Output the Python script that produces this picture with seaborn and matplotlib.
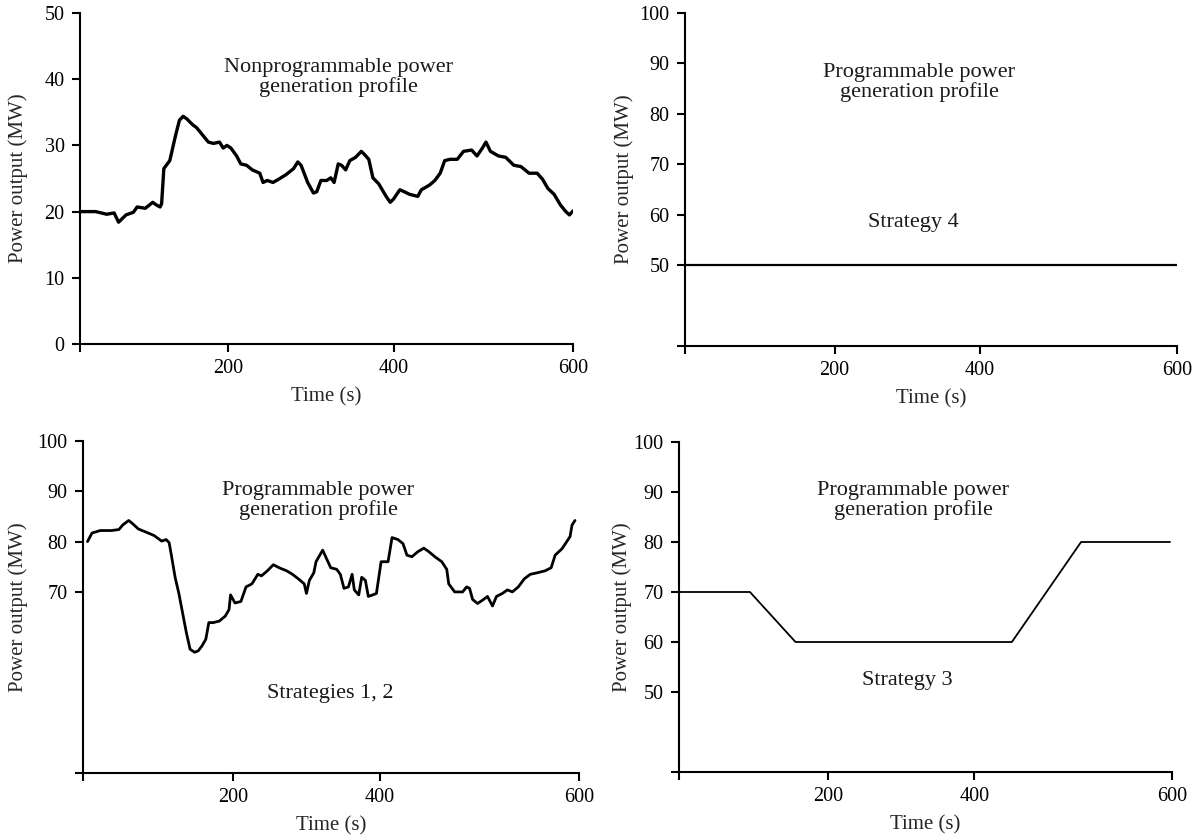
import numpy as np
import matplotlib
matplotlib.use("Agg")
import matplotlib.pyplot as plt
import seaborn as sns

# Nonprogrammable power generation profile (time in s, power in MW)
nonprog_time = [0, 21, 36, 46, 52, 62, 72, 77, 88, 98, 103, 108, 110, 113, 121, 129,
                134, 139, 144, 152, 157, 165, 173, 180, 188, 193, 198, 203, 210, 215,
                222, 229, 238, 242, 247, 254, 261, 270, 279, 284, 288, 296, 303, 307,
                312, 319, 324, 328, 333, 337, 342, 347, 354, 361, 365, 370, 375, 382,
                391, 396, 400, 407, 412, 418, 427, 431, 440, 446, 452, 457, 463, 471,
                478, 487, 493, 499, 503, 508, 517, 525, 534, 542, 551, 560, 566, 572,
                579, 586, 592, 596, 600]
nonprog_power = [20.0, 20.0, 19.6, 19.8, 18.4, 19.5, 19.9, 20.7, 20.5, 21.4, 21.0, 20.7,
                 21.2, 26.5, 27.7, 31.6, 33.8, 34.4, 34.0, 33.1, 32.7, 31.6, 30.5, 30.3,
                 30.5, 29.6, 30.0, 29.6, 28.4, 27.2, 27.0, 26.3, 25.8, 24.4, 24.7, 24.4,
                 24.9, 25.6, 26.5, 27.5, 27.0, 24.4, 22.8, 23.0, 24.7, 24.7, 25.1, 24.4,
                 27.2, 27.0, 26.3, 27.7, 28.2, 29.1, 28.6, 27.9, 25.1, 24.2, 22.3, 21.4,
                 21.9, 23.3, 23.0, 22.6, 22.3, 23.3, 24.0, 24.7, 25.8, 27.7, 27.9, 27.9,
                 29.1, 29.3, 28.4, 29.6, 30.5, 29.1, 28.4, 28.2, 27.0, 26.8, 25.8, 25.8,
                 24.9, 23.5, 22.6, 21.0, 20.0, 19.5, 20.1]

# Programmable profile, strategies 1 and 2
s12_time = [6, 12, 23, 38, 48, 53, 61, 66, 74, 84, 95, 105, 111, 115, 118, 123, 128,
            133, 138, 143, 149, 154, 159, 164, 168, 174, 182, 190, 195, 197, 203, 211,
            218, 226, 234, 239, 247, 255, 263, 273, 281, 289, 297, 300, 304, 310, 313,
            322, 327, 333, 341, 346, 351, 357, 362, 365, 371, 375, 380, 384, 390, 395,
            401, 408, 412, 418, 423, 427, 432, 438, 444, 449, 455, 462, 467, 469, 475,
            483, 487, 490, 493, 498, 504, 508, 513, 517, 523, 528, 533, 539, 545, 551,
            558, 566, 572, 576, 583, 587, 591, 593, 596]
s12_power = [80.0, 81.7, 82.2, 82.2, 82.4, 83.3, 84.2, 83.6, 82.5, 81.9, 81.2, 80.1,
             80.4, 79.8, 77.3, 72.9, 69.7, 65.8, 61.9, 58.6, 58.0, 58.3, 59.3, 60.6,
             63.9, 63.9, 64.2, 65.2, 66.5, 69.4, 67.8, 68.1, 71.0, 71.6, 73.5, 73.2,
             74.2, 75.4, 74.8, 74.2, 73.5, 72.6, 71.6, 69.7, 72.3, 73.8, 76.0, 78.3,
             76.7, 74.8, 74.5, 73.5, 70.7, 71.0, 73.5, 70.4, 69.4, 72.9, 72.3, 69.1,
             69.4, 69.7, 76.0, 76.0, 80.8, 80.4, 79.6, 77.3, 77.0, 78.0, 78.7, 78.0,
             77.0, 76.0, 74.5, 71.6, 70.0, 70.0, 71.0, 70.7, 68.5, 67.7, 68.5, 69.1,
             67.2, 69.1, 69.7, 70.4, 70.0, 71.0, 72.6, 73.5, 73.8, 74.2, 74.8, 77.3,
             78.6, 79.8, 81.0, 83.3, 84.2]

# Programmable profile, strategy 3 schedule
s3_time = [0, 95, 156, 438, 508, 598]
s3_power = [70, 70, 60, 60, 80, 80]

# Programmable profile, strategy 4 schedule
s4_time = [0, 600]
s4_power = [50, 50]

x_ticks = [0, 200, 400, 600]
x_labels = ["", "200", "400", "600"]

sns.set_theme(style="ticks")
plt.rcParams["font.family"] = ["Liberation Serif", "DejaVu Serif"]
plt.rcParams["axes.linewidth"] = 1.5
plt.rcParams["xtick.major.width"] = 1.5
plt.rcParams["ytick.major.width"] = 1.5
plt.rcParams["xtick.major.size"] = 6
plt.rcParams["ytick.major.size"] = 6
plt.rcParams["xtick.major.pad"] = 5
plt.rcParams["ytick.major.pad"] = 5
plt.rcParams["xtick.labelsize"] = 14.5
plt.rcParams["ytick.labelsize"] = 14.5
plt.rcParams["xtick.color"] = "black"
plt.rcParams["ytick.color"] = "black"
plt.rcParams["axes.edgecolor"] = "black"
plt.rcParams["text.color"] = "#1a1a1a"

W, H = 1203, 840
fig = plt.figure(figsize=(W / 100, H / 100), dpi=100)


def time_axis(f200, f400):
    """Piecewise-linear time scale with the 200 s / 400 s ticks at given fractions."""
    src = np.array([-600.0, 0.0, 200.0, 400.0, 600.0, 1200.0])
    dst = np.array([-1.0, 0.0, f200, f400, 1.0, 2.0])
    return (lambda v: np.interp(v, src, dst), lambda v: np.interp(v, dst, src))


def panel(left, top, right, bottom, fracs, ylim, ylabeled, ylab_off):
    ax = fig.add_axes([left / W, 1 - bottom / H, (right - left) / W, (bottom - top) / H])
    ax.set_xscale("function", functions=time_axis(*fracs))
    ax.set_xlim(0, 600)
    ax.set_xticks(x_ticks)
    ax.set_xticklabels(x_labels)
    ax.set_ylim(*ylim)
    yt = sorted(set([ylim[0]] + ylabeled))
    ax.set_yticks(yt)
    ax.set_yticklabels([str(v) if v in ylabeled else "" for v in yt])
    ax.minorticks_off()
    sns.despine(ax=ax)
    ax.set_xlabel("Time (s)", fontsize=15)
    ax.set_ylabel("Power output (MW)", fontsize=15)
    ax.xaxis.set_label_coords(0.5, -43 / (bottom - top))
    ax.yaxis.set_label_coords(-ylab_off / (right - left), 0.5)
    return ax


def caption(ax, x, y, text):
    ax.text(x, y, text, transform=ax.transAxes, ha="center", va="center",
            fontsize=16, linespacing=1.0)


# Top left: nonprogrammable generation
ax1 = panel(80, 13, 573, 344, (0.301, 0.636), (0, 50), [0, 10, 20, 30, 40, 50], 52)
sns.lineplot(x=nonprog_time, y=nonprog_power, ax=ax1, color="black", linewidth=2.4)
caption(ax1, 0.525, 0.804, "Nonprogrammable power\ngeneration profile")

# Top right: strategy 4
ax2 = panel(685, 13, 1177, 346, (0.304, 0.599), (34, 100), [50, 60, 70, 80, 90, 100], 51)
sns.lineplot(x=s4_time, y=s4_power, ax=ax2, color="black", linewidth=1.6)
caption(ax2, 0.476, 0.79, "Programmable power\ngeneration profile")
caption(ax2, 0.465, 0.37, "Strategy 4")

# Bottom left: strategies 1, 2
ax3 = panel(83, 441, 579, 773, (0.302, 0.599), (34, 100), [70, 80, 90, 100], 55)
sns.lineplot(x=s12_time, y=s12_power, ax=ax3, color="black", linewidth=2.0)
caption(ax3, 0.474, 0.82, "Programmable power\ngeneration profile")
caption(ax3, 0.498, 0.24, "Strategies 1, 2")

# Bottom right: strategy 3
ax4 = panel(679, 442, 1172, 772, (0.303, 0.599), (34, 100), [50, 60, 70, 80, 90, 100], 47)
sns.lineplot(x=s3_time, y=s3_power, ax=ax4, color="black", linewidth=1.3)
caption(ax4, 0.475, 0.824, "Programmable power\ngeneration profile")
caption(ax4, 0.464, 0.276, "Strategy 3")

fig.savefig("out.png", dpi=100, facecolor="white")
